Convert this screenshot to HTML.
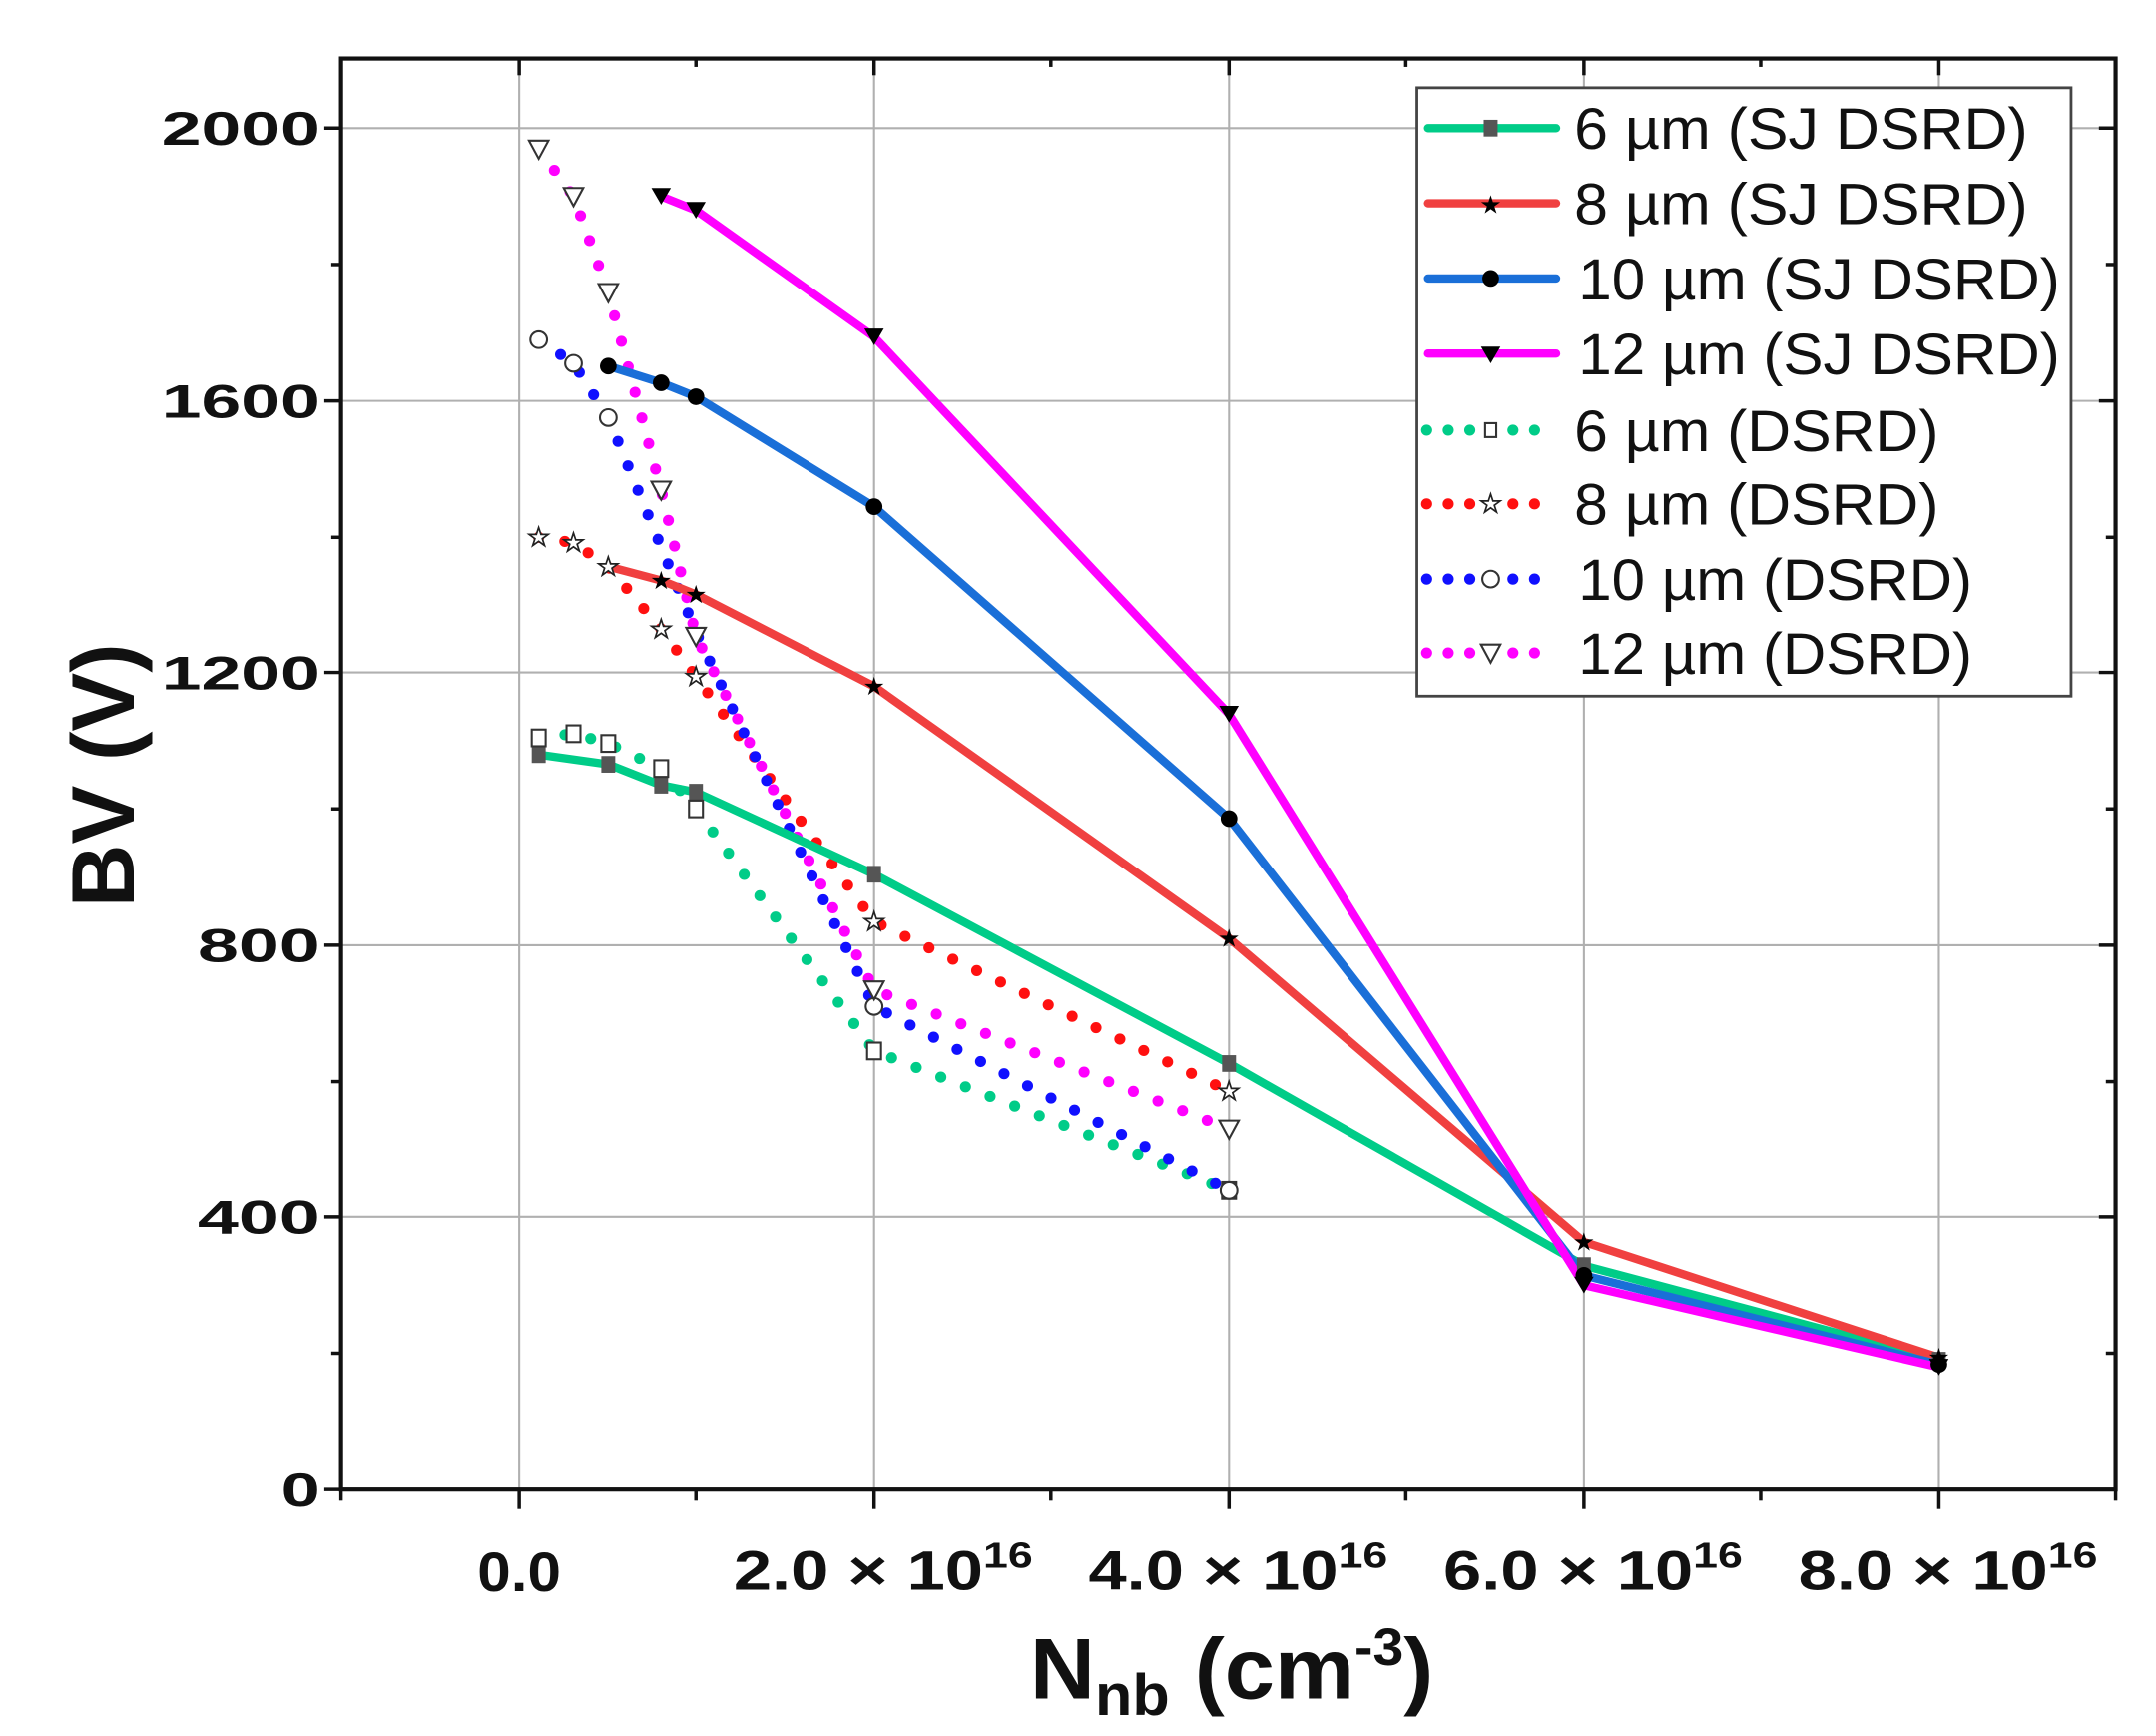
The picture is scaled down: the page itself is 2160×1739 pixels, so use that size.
<!DOCTYPE html>
<html><head><meta charset="utf-8"><style>html,body{margin:0;padding:0;background:#fff}svg{display:block}</style></head>
<body>
<svg width="2160" height="1739" viewBox="0 0 1549 1247" preserveAspectRatio="none" xmlns="http://www.w3.org/2000/svg" font-family="'Liberation Sans', Arial, sans-serif">
<rect width="1549" height="1247" fill="#fff"/>
<g stroke="#b0b0b0" stroke-width="1.5">
<line x1="373" y1="42" x2="373" y2="1070"/><line x1="628" y1="42" x2="628" y2="1070"/><line x1="883" y1="42" x2="883" y2="1070"/><line x1="1138" y1="42" x2="1138" y2="1070"/><line x1="1393" y1="42" x2="1393" y2="1070"/>
<line x1="245" y1="92" x2="1520" y2="92"/><line x1="245" y1="288" x2="1520" y2="288"/><line x1="245" y1="483" x2="1520" y2="483"/><line x1="245" y1="679" x2="1520" y2="679"/><line x1="245" y1="874" x2="1520" y2="874"/>
</g>
<g stroke="#111" stroke-width="2.5">
<line x1="233" y1="92" x2="245" y2="92"/><line x1="233" y1="288" x2="245" y2="288"/><line x1="233" y1="483" x2="245" y2="483"/><line x1="233" y1="679" x2="245" y2="679"/><line x1="233" y1="874" x2="245" y2="874"/><line x1="233" y1="1070" x2="245" y2="1070"/>
<line x1="238" y1="190" x2="245" y2="190"/><line x1="238" y1="386" x2="245" y2="386"/><line x1="238" y1="581" x2="245" y2="581"/><line x1="238" y1="777" x2="245" y2="777"/><line x1="238" y1="972" x2="245" y2="972"/>
<line x1="1508" y1="92" x2="1520" y2="92"/><line x1="1508" y1="288" x2="1520" y2="288"/><line x1="1508" y1="483" x2="1520" y2="483"/><line x1="1508" y1="679" x2="1520" y2="679"/><line x1="1508" y1="874" x2="1520" y2="874"/>
<line x1="1513" y1="190" x2="1520" y2="190"/><line x1="1513" y1="386" x2="1520" y2="386"/><line x1="1513" y1="581" x2="1520" y2="581"/><line x1="1513" y1="777" x2="1520" y2="777"/><line x1="1513" y1="972" x2="1520" y2="972"/>
<line x1="373" y1="1070" x2="373" y2="1084"/><line x1="628" y1="1070" x2="628" y2="1084"/><line x1="883" y1="1070" x2="883" y2="1084"/><line x1="1138" y1="1070" x2="1138" y2="1084"/><line x1="1393" y1="1070" x2="1393" y2="1084"/>
<line x1="245" y1="1070" x2="245" y2="1078"/><line x1="500" y1="1070" x2="500" y2="1078"/><line x1="755" y1="1070" x2="755" y2="1078"/><line x1="1010" y1="1070" x2="1010" y2="1078"/><line x1="1265" y1="1070" x2="1265" y2="1078"/><line x1="1520" y1="1070" x2="1520" y2="1078"/>
<line x1="373" y1="42" x2="373" y2="54"/><line x1="628" y1="42" x2="628" y2="54"/><line x1="883" y1="42" x2="883" y2="54"/><line x1="1138" y1="42" x2="1138" y2="54"/><line x1="1393" y1="42" x2="1393" y2="54"/>
<line x1="500" y1="42" x2="500" y2="48"/><line x1="755" y1="42" x2="755" y2="48"/><line x1="1010" y1="42" x2="1010" y2="48"/><line x1="1265" y1="42" x2="1265" y2="48"/>
</g>
<rect x="245" y="42" width="1275" height="1028" fill="none" stroke="#111" stroke-width="3"/>

<g fill="none" stroke-linejoin="round">
<g stroke-width="8" stroke-linecap="round" stroke-dasharray="0 19">
<polyline stroke="#00cc88" points="387,530 412,527 437,534 475,552 500,581 628,755 883,855"/>
<polyline stroke="#ff1010" points="387,386 412,390 437,407 475,452 500,486 628,662 883,784"/>
<polyline stroke="#1010ff" points="387,244 412,261 437,300 500,454 628,723 883,855"/>
<polyline stroke="#ff00ff" points="387,107 412,141 437,210 475,352 500,457 628,711 883,811"/>
</g>
<g stroke-width="6" stroke-linecap="round">
<polyline stroke="#00cc88" points="387,542 437,549 475,564 500,569 628,628 883,764 1138,909 1393,977"/>
<polyline stroke="#f04040" points="437,407 475,417 500,427 628,493 883,674 1138,892 1393,975"/>
<polyline stroke="#1a6fd8" points="437,263 475,275 500,285 628,364 883,588 1138,916 1393,980"/>
<polyline stroke="#ff00ff" points="475,141 500,151 628,242 883,513 1138,923 1393,982"/>
</g>
</g>
<g fill="#555">
<rect x="382" y="536" width="10" height="12"/><rect x="432" y="543" width="10" height="12"/><rect x="470" y="558" width="10" height="12"/><rect x="495" y="563" width="10" height="12"/><rect x="623" y="622" width="10" height="12"/><rect x="878" y="758" width="10" height="12"/><rect x="1133" y="903" width="10" height="12"/><rect x="1388" y="971" width="10" height="12"/>
</g>
<g fill="#000">
<circle cx="437" cy="263" r="6"/><circle cx="475" cy="275" r="6"/><circle cx="500" cy="285" r="6"/><circle cx="628" cy="364" r="6"/><circle cx="883" cy="588" r="6"/><circle cx="1138" cy="916" r="6"/><circle cx="1393" cy="980" r="6"/>
<g font-size="18" text-anchor="middle"><text x="475" y="423">★</text><text x="500" y="433">★</text><text x="628" y="499">★</text><text x="883" y="680">★</text><text x="1138" y="898">★</text><text x="1393" y="981">★</text></g>
<path d="M468,135h14l-7,12z M493,145h14l-7,12z M621,236h14l-7,12z M876,507h14l-7,12z M1131,917h14l-7,12z M1386,976h14l-7,12z"/>
</g>
<g fill="#fff" stroke="#333" stroke-width="1.5">
<rect x="382" y="524" width="10" height="12"/><rect x="407" y="521" width="10" height="12"/><rect x="432" y="528" width="10" height="12"/><rect x="470" y="546" width="10" height="12"/><rect x="495" y="575" width="10" height="12"/><rect x="623" y="749" width="10" height="12"/><rect x="878" y="849" width="10" height="12"/>
<circle cx="387" cy="244" r="6"/><circle cx="412" cy="261" r="6"/><circle cx="437" cy="300" r="6"/><circle cx="628" cy="723" r="6"/><circle cx="883" cy="855" r="6"/>
<path d="M380,101h14l-7,13z M405,135h14l-7,13z M430,204h14l-7,13z M468,346h14l-7,13z M493,451h14l-7,13z M621,705h14l-7,13z M876,805h14l-7,13z"/>
</g>
<g font-size="18" text-anchor="middle" fill="#fff" stroke="#222" stroke-width="1.2"><text x="387" y="392">★</text><text x="412" y="396">★</text><text x="437" y="413">★</text><text x="475" y="458">★</text><text x="500" y="492">★</text><text x="628" y="668">★</text><text x="883" y="790">★</text></g>

<rect x="1018" y="63" width="470" height="437" fill="#fff" stroke="#444" stroke-width="2"/>
<g stroke-width="6" stroke-linecap="round">
<line x1="1026" y1="92" x2="1118" y2="92" stroke="#00cc88"/>
<line x1="1026" y1="146" x2="1118" y2="146" stroke="#f04040"/>
<line x1="1026" y1="200" x2="1118" y2="200" stroke="#1a6fd8"/>
<line x1="1026" y1="254" x2="1118" y2="254" stroke="#ff00ff"/>
</g>
<g stroke-width="8" stroke-linecap="round" stroke-dasharray="0 15.5">
<line x1="1025" y1="309" x2="1118" y2="309" stroke="#00cc88"/>
<line x1="1025" y1="362" x2="1118" y2="362" stroke="#ff1010"/>
<line x1="1025" y1="416" x2="1118" y2="416" stroke="#1010ff"/>
<line x1="1025" y1="469" x2="1118" y2="469" stroke="#ff00ff"/>
</g>
<rect x="1066" y="86" width="10" height="12" fill="#555"/>
<text x="1071" y="153" font-size="18" text-anchor="middle">★</text>
<circle cx="1071" cy="200" r="6"/>
<path d="M1064,249h14l-7,12z"/>
<rect x="1064" y="301" width="14" height="16" fill="#fff"/><rect x="1067" y="304" width="8" height="10" fill="#fff" stroke="#333" stroke-width="1.5"/>
<rect x="1062" y="353" width="18" height="18" fill="#fff"/><text x="1071" y="368" font-size="18" text-anchor="middle" fill="#fff" stroke="#222" stroke-width="1.2">★</text>
<rect x="1062" y="407" width="18" height="18" fill="#fff"/><circle cx="1071" cy="416" r="6" fill="#fff" stroke="#333" stroke-width="1.5"/>
<rect x="1062" y="460" width="18" height="18" fill="#fff"/><path d="M1064,463h14l-7,13z" fill="#fff" stroke="#333" stroke-width="1.5"/>
<g font-size="42" fill="#111" lengthAdjust="spacingAndGlyphs">
<text x="1131" y="107" textLength="326" lengthAdjust="spacingAndGlyphs">6 µm (SJ DSRD)</text>
<text x="1131" y="161" textLength="326" lengthAdjust="spacingAndGlyphs">8 µm (SJ DSRD)</text>
<text x="1134" y="215" textLength="346" lengthAdjust="spacingAndGlyphs">10 µm (SJ DSRD)</text>
<text x="1134" y="269" textLength="346" lengthAdjust="spacingAndGlyphs">12 µm (SJ DSRD)</text>
<text x="1131" y="324" textLength="262" lengthAdjust="spacingAndGlyphs">6 µm (DSRD)</text>
<text x="1131" y="377" textLength="262" lengthAdjust="spacingAndGlyphs">8 µm (DSRD)</text>
<text x="1134" y="431" textLength="283" lengthAdjust="spacingAndGlyphs">10 µm (DSRD)</text>
<text x="1134" y="484" textLength="283" lengthAdjust="spacingAndGlyphs">12 µm (DSRD)</text>
</g>

<g font-size="34" font-weight="bold" fill="#111" text-anchor="end">
<text x="230" y="104" textLength="114" lengthAdjust="spacingAndGlyphs">2000</text>
<text x="230" y="300" textLength="114" lengthAdjust="spacingAndGlyphs">1600</text>
<text x="230" y="495" textLength="114" lengthAdjust="spacingAndGlyphs">1200</text>
<text x="230" y="691" textLength="88" lengthAdjust="spacingAndGlyphs">800</text>
<text x="230" y="886" textLength="88" lengthAdjust="spacingAndGlyphs">400</text>
<text x="230" y="1082" textLength="28" lengthAdjust="spacingAndGlyphs">0</text>
</g>
<g font-size="40" font-weight="bold" fill="#111">
<text x="343" y="1143" textLength="60" lengthAdjust="spacingAndGlyphs">0.0</text>
<text x="527" y="1142" textLength="215" lengthAdjust="spacingAndGlyphs">2.0 × 10<tspan font-size="26" dy="-16">16</tspan></text>
<text x="782" y="1142" textLength="215" lengthAdjust="spacingAndGlyphs">4.0 × 10<tspan font-size="26" dy="-16">16</tspan></text>
<text x="1037" y="1142" textLength="215" lengthAdjust="spacingAndGlyphs">6.0 × 10<tspan font-size="26" dy="-16">16</tspan></text>
<text x="1292" y="1142" textLength="215" lengthAdjust="spacingAndGlyphs">8.0 × 10<tspan font-size="26" dy="-16">16</tspan></text>
</g>
<text x="740" y="1220" font-size="62" font-weight="bold" fill="#111" textLength="290" lengthAdjust="spacingAndGlyphs">N<tspan font-size="42" dy="12">nb</tspan><tspan dy="-12"> (cm</tspan><tspan font-size="38" dy="-24">-3</tspan><tspan dy="24">)</tspan></text>
<text transform="translate(96,652) rotate(-90)" font-size="64" font-weight="bold" fill="#111" textLength="190" lengthAdjust="spacingAndGlyphs">BV (V)</text>
</svg>
</body></html>
